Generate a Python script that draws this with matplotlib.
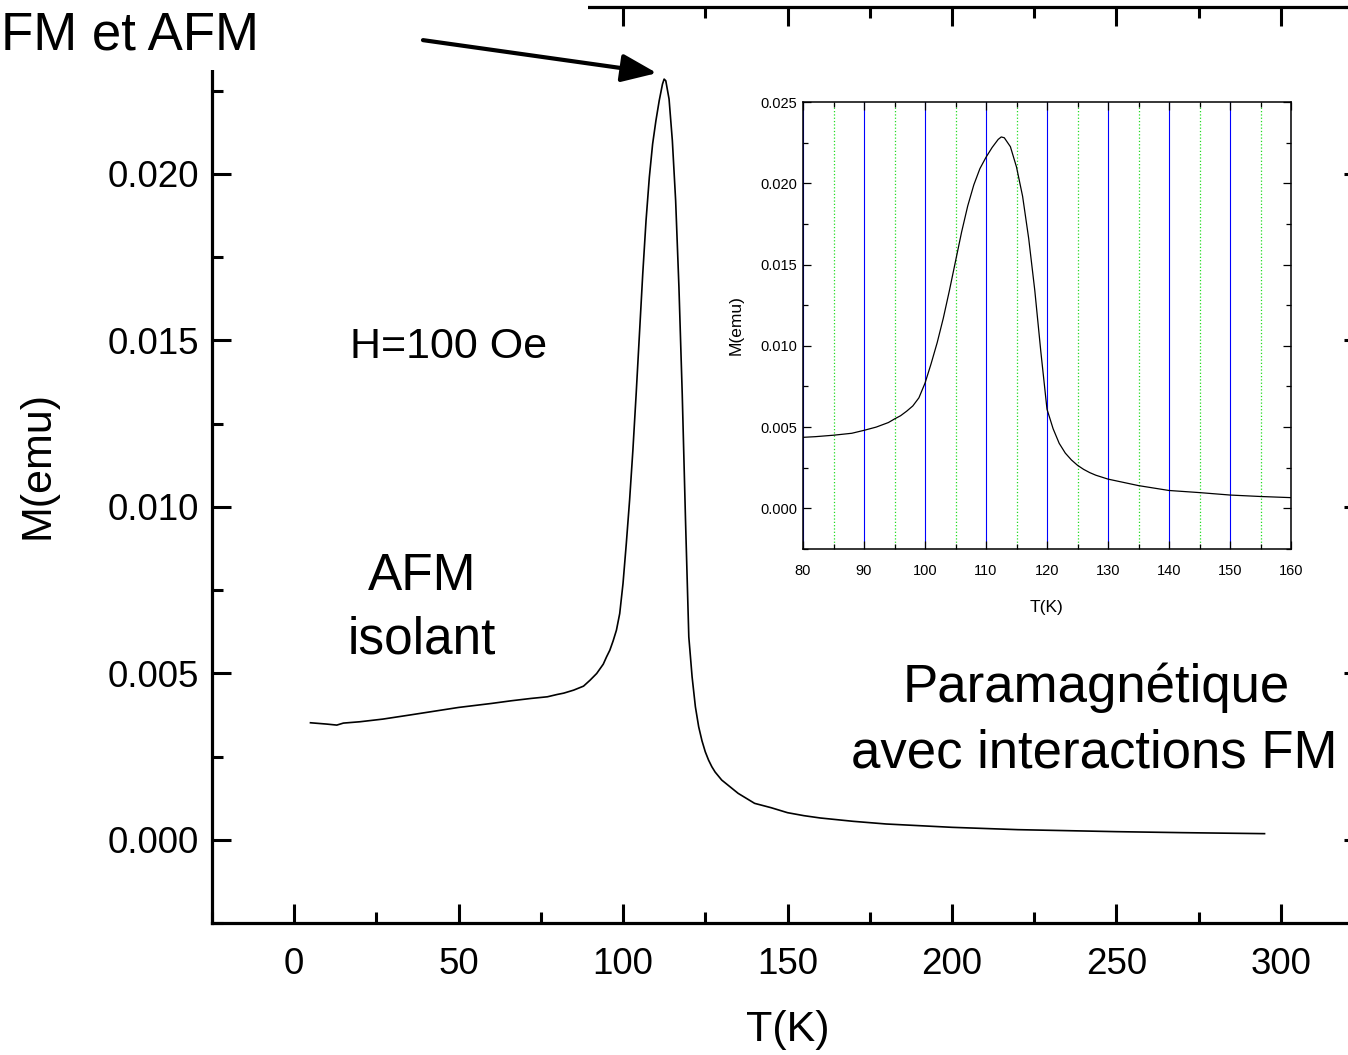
import matplotlib
matplotlib.use('Agg')
import matplotlib.pyplot as plt
from matplotlib.ticker import MultipleLocator, FormatStrFormatter
from matplotlib.patches import Rectangle

plt.rcParams['font.family'] = ['Liberation Sans', 'DejaVu Sans']

# M(T) curve, field H = 100 Oe
T = [5, 10, 13, 15, 20, 27, 35, 50, 60, 66, 72, 77, 80, 82, 85, 88, 90, 92, 94,
     95, 96, 97, 98, 99, 100, 101, 102, 103, 104, 105, 106, 107, 108, 109, 110,
     111, 112, 112.5, 113, 114, 115, 116, 117, 118, 119, 120, 121, 122, 123, 124,
     125, 126, 127, 128, 130, 135, 140, 145, 150, 155, 160, 170, 180, 200, 220,
     250, 270, 295]
M = [0.00352, 0.00348, 0.00345, 0.00351, 0.00355, 0.00363, 0.00375, 0.00398,
     0.00410, 0.00418, 0.00425, 0.00430, 0.00437, 0.00441, 0.00450, 0.00462,
     0.00480, 0.00500, 0.00528, 0.00550, 0.00570, 0.00598, 0.00630, 0.00680,
     0.00770, 0.00890, 0.01020, 0.01170, 0.01340, 0.01520, 0.01700, 0.01860,
     0.01990, 0.02090, 0.02160, 0.02220, 0.02270, 0.02285, 0.02280, 0.02225,
     0.02100, 0.01920, 0.01660, 0.01340, 0.00960, 0.00610, 0.00490, 0.00400,
     0.00340, 0.00298, 0.00265, 0.00240, 0.00220, 0.00204, 0.00180, 0.00140,
     0.00110, 0.00097, 0.00082, 0.00073, 0.00066, 0.00056, 0.00048, 0.00038,
     0.00031, 0.00025, 0.00022, 0.00019]

W, H = 1348, 1055
fig = plt.figure(figsize=(W / 100, H / 100), dpi=100)


def px(x, y):
    # pixel position (from top-left) -> figure fraction
    return x / W, 1 - y / H


# main panel (right edge runs off the picture)
ax = fig.add_axes([0.1571, 0.1249, 0.8542, 0.8680])
ax.plot(T, M, color='black', lw=1.2)
ax.set_xlim(-25, 325)
ax.set_ylim(-0.0025, 0.025)
ax.xaxis.set_major_locator(MultipleLocator(50))
ax.xaxis.set_minor_locator(MultipleLocator(25))
ax.yaxis.set_major_locator(MultipleLocator(0.005))
ax.yaxis.set_minor_locator(MultipleLocator(0.0025))
ax.yaxis.set_major_formatter(FormatStrFormatter('%.3f'))
ax.tick_params(which='both', direction='in', top=True, right=True, width=2.2)
ax.tick_params(which='major', length=13.5)
ax.tick_params(which='minor', length=8)
ax.tick_params(axis='x', which='major', labelsize=26.5, pad=17)
ax.tick_params(axis='y', which='major', labelsize=26.5, pad=9)
for s in ax.spines.values():
    s.set_linewidth(2.3)
ax.set_xlabel('T(K)', fontsize=31, labelpad=20)
ax.set_ylabel('M(emu)', fontsize=31, labelpad=36)

# white patch hiding the top-left corner of the frame
cover = Rectangle((0, 1 - 70 / H), 588 / W, 70 / H, transform=fig.transFigure,
                  facecolor='white', edgecolor='none', zorder=4, clip_on=False)
ax.add_artist(cover)

ax.annotate('', xy=(110.3, 0.02303), xytext=(39.2, 0.02402),
            arrowprops=dict(arrowstyle='-|>,head_length=1.08,head_width=0.43',
                            mutation_scale=20, lw=3, color='black',
                            shrinkA=0, shrinkB=0),
            annotation_clip=False, zorder=6)
fig.text(*px(1, 50), 'FM et AFM', fontsize=38, ha='left', va='baseline', zorder=6)

fig.text(*px(449, 358), 'H=100 Oe', fontsize=31, ha='center', va='baseline')
fig.text(*px(422, 590), 'AFM', fontsize=37, ha='center', va='baseline')
fig.text(*px(422, 654), 'isolant', fontsize=37, ha='center', va='baseline')
fig.text(*px(1096, 702), 'Paramagnétique', fontsize=38, ha='center', va='baseline')
fig.text(*px(1094, 768), 'avec interactions FM', fontsize=38, ha='center', va='baseline')

# inset: zoom on the transition
ins = fig.add_axes([803 / W, 1 - 549 / H, 488 / W, 447 / H])
ins.plot(T, M, color='black', lw=0.9)
ins.set_xlim(80, 160)
ins.set_ylim(-0.0025, 0.025)
ins.xaxis.set_major_locator(MultipleLocator(10))
ins.xaxis.set_minor_locator(MultipleLocator(5))
ins.yaxis.set_major_locator(MultipleLocator(0.005))
ins.yaxis.set_minor_locator(MultipleLocator(0.0025))
ins.yaxis.set_major_formatter(FormatStrFormatter('%.3f'))
ins.grid(True, which='major', axis='x', color='#0000ff', lw=0.8, ls='-')
ins.grid(True, which='minor', axis='x', color='#22dd22', lw=0.9, ls=':')
ins.tick_params(which='both', direction='in', top=True, right=True, width=0.9)
ins.tick_params(which='major', length=6)
ins.tick_params(which='minor', length=3.5)
ins.tick_params(axis='x', which='major', labelsize=10.5, pad=10.5)
ins.tick_params(axis='y', which='major', labelsize=10.5, pad=4)
for s in ins.spines.values():
    s.set_linewidth(1.1)
ins.set_xlabel('T(K)', fontsize=12.5, labelpad=16)
ins.set_ylabel('M(emu)', fontsize=12.5, labelpad=12)

plt.savefig('out.png', dpi=100)
